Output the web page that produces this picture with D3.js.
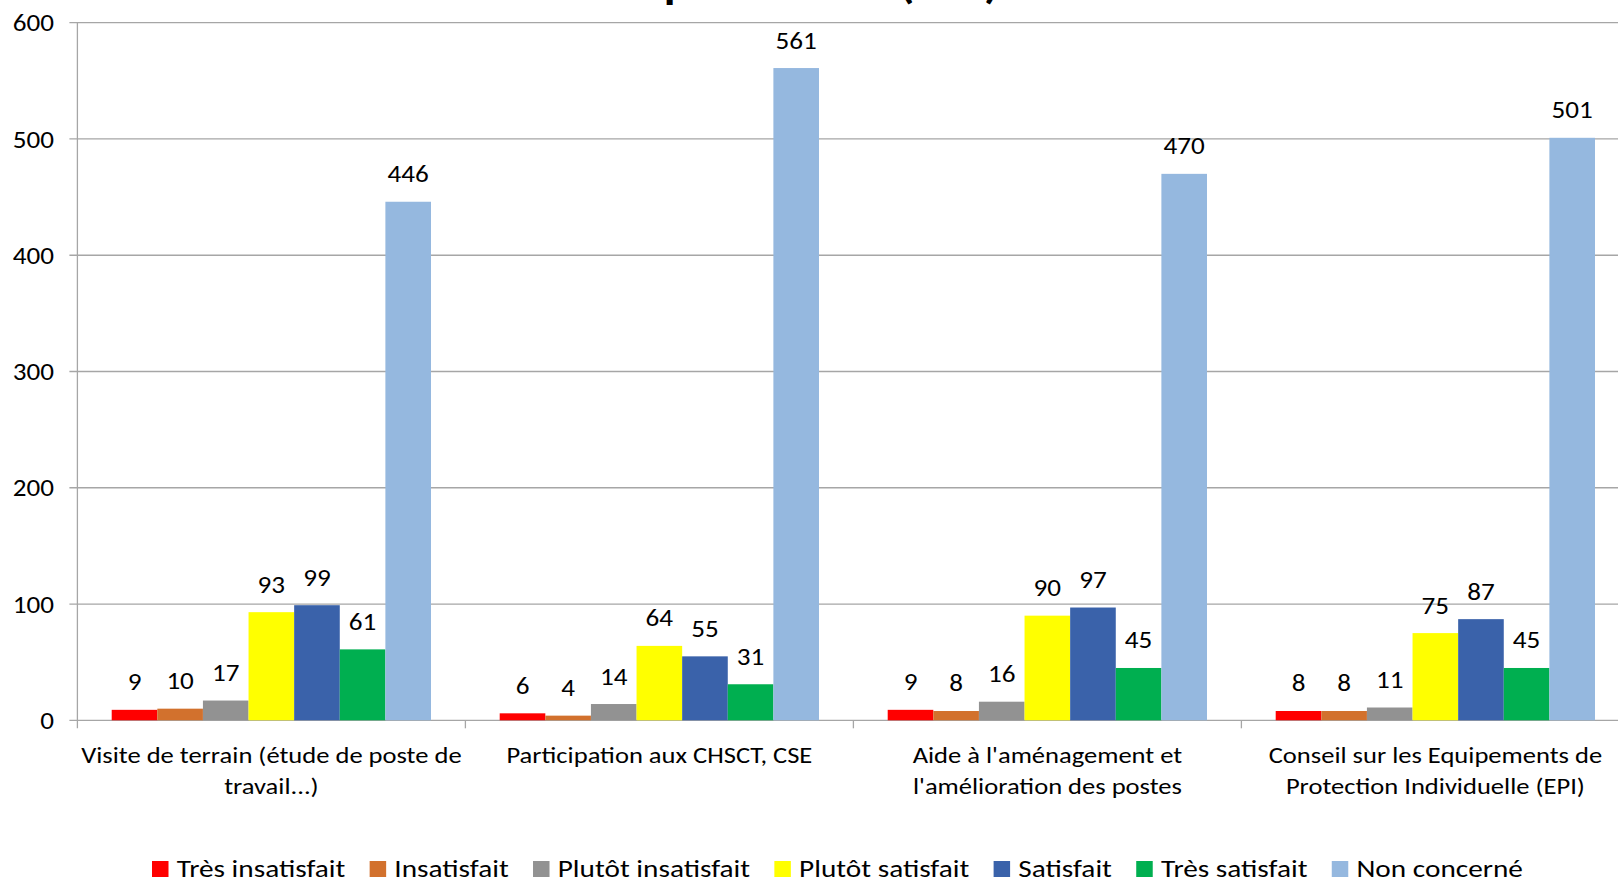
<!DOCTYPE html>
<html>
<head>
<meta charset="utf-8">
<script src="https://cdn.jsdelivr.net/npm/d3@7"></script>
<style>
  html, body { margin: 0; padding: 0; background: #fff; }
  svg { display: block; font-family: Carlito, Calibri, Lato, sans-serif; }
</style>
</head>
<body>
<svg id="chart" width="1618" height="882"></svg>
<script>
// ---- Data ----
const titleText = "Satisfaction des prestations (1/2)";
const categories = ["Visite de terrain", "Participation", "Aménagement", "EPI"];
const categoryLines = [
  ["Visite de terrain (étude de poste de", "travail...)"],
  ["Participation aux CHSCT, CSE"],
  ["Aide à l'aménagement et", "l'amélioration des postes"],
  ["Conseil sur les Equipements de", "Protection Individuelle (EPI)"]
];
const seriesNames = ["Très insatisfait", "Insatisfait", "Plutôt insatisfait", "Plutôt satisfait", "Satisfait", "Très satisfait", "Non concerné"];
const seriesColors = ["#FF0000", "#D2712D", "#929292", "#FFFF00", "#3A62AA", "#00AF50", "#95B8DF"];
const tresInsatisfait   = [9, 6, 9, 8];
const insatisfait       = [10, 4, 8, 8];
const plutotInsatisfait = [17, 14, 16, 11];
const plutotSatisfait   = [93, 64, 90, 75];
const satisfait         = [99, 55, 97, 87];
const tresSatisfait     = [61, 31, 45, 45];
const nonConcerne       = [446, 561, 470, 501];
const yTicks = [0, 100, 200, 300, 400, 500, 600];

const seriesValues = [tresInsatisfait, insatisfait, plutotInsatisfait, plutotSatisfait, satisfait, tresSatisfait, nonConcerne];

// ---- Layout ----
const svg = d3.select("#chart");
const plotLeft = 77.4, plotTop = 22.7, plotBottom = 720.3, catWidth = 388;
const plotRight = plotLeft + catWidth * categories.length;
const gridColor = "#A6A6A6";
const numSX = 1.13, catSX = 1.14, legSX = 1.21;

const y = d3.scaleLinear().domain([0, 600]).range([plotBottom, plotTop]);
const x0 = d3.scaleBand().domain(categories).range([plotLeft, plotRight]).padding(0);
const x1 = d3.scaleBand().domain(seriesNames).range([34.3, 353.6]).padding(0);

function tr(x, y, sx) { return `translate(${x},${y}) scale(${sx},1)`; }

// Title (mostly above the visible area, as in the reference)
svg.append("text")
  .attr("transform", tr(999, -2, 1.15))
  .attr("text-anchor", "end")
  .attr("font-size", 42).attr("font-weight", "bold")
  .attr("fill", "#000")
  .text(titleText);

// Gridlines
svg.append("g").selectAll("line").data(yTicks).join("line")
  .attr("x1", plotLeft - 8).attr("x2", 1618)
  .attr("y1", d => y(d)).attr("y2", d => y(d))
  .attr("stroke", gridColor).attr("stroke-width", 1.3);

// Y axis line
svg.append("line")
  .attr("x1", plotLeft).attr("x2", plotLeft)
  .attr("y1", plotTop).attr("y2", plotBottom + 8)
  .attr("stroke", gridColor).attr("stroke-width", 1.3);

// Category boundary ticks
svg.append("g").selectAll("line").data(categories.slice(1)).join("line")
  .attr("x1", d => x0(d)).attr("x2", d => x0(d))
  .attr("y1", plotBottom).attr("y2", plotBottom + 8)
  .attr("stroke", gridColor).attr("stroke-width", 1.3);

// Y tick labels
svg.append("g").selectAll("text").data(yTicks).join("text")
  .attr("transform", d => tr(54, y(d) + 8.6, numSX))
  .attr("text-anchor", "end")
  .attr("font-size", 24).attr("fill", "#000")
  .text(d => d);

// Bars
const groups = svg.append("g").selectAll("g").data(categories).join("g")
  .attr("transform", d => `translate(${x0(d)},0)`);

const cellData = (c, ci) => seriesNames.map((s, si) => ({s, si, v: seriesValues[si][ci]}));

groups.selectAll("rect").data(cellData)
  .join("rect")
  .attr("x", d => x1(d.s))
  .attr("width", x1.bandwidth())
  .attr("y", d => y(d.v))
  .attr("height", d => y(0) - y(d.v))
  .attr("fill", d => seriesColors[d.si]);

groups.selectAll("text").data(cellData)
  .join("text")
  .attr("transform", d => tr(x1(d.s) + x1.bandwidth() / 2, y(d.v) - 19.5, numSX))
  .attr("text-anchor", "middle")
  .attr("font-size", 24).attr("fill", "#000")
  .text(d => d.v);

// Category labels
categories.forEach((c, i) => {
  categoryLines[i].forEach((line, li) => {
    svg.append("text")
      .attr("transform", tr(x0(c) + catWidth / 2, 762.5 + li * 31.6, catSX))
      .attr("text-anchor", "middle")
      .attr("font-size", 23.3).attr("fill", "#000")
      .text(line);
  });
});

// Legend
const legend = svg.append("g");
let lx = 152;
seriesNames.forEach((s, i) => {
  legend.append("rect")
    .attr("x", lx).attr("y", 861).attr("width", 16.5).attr("height", 16)
    .attr("fill", seriesColors[i]);
  const t = legend.append("text")
    .attr("transform", tr(lx + 24.7, 876.7, legSX))
    .attr("font-size", 24.2).attr("fill", "#000")
    .text(s);
  lx = lx + 24.7 + t.node().getComputedTextLength() * legSX + 24.3;
});
</script>
</body>
</html>
